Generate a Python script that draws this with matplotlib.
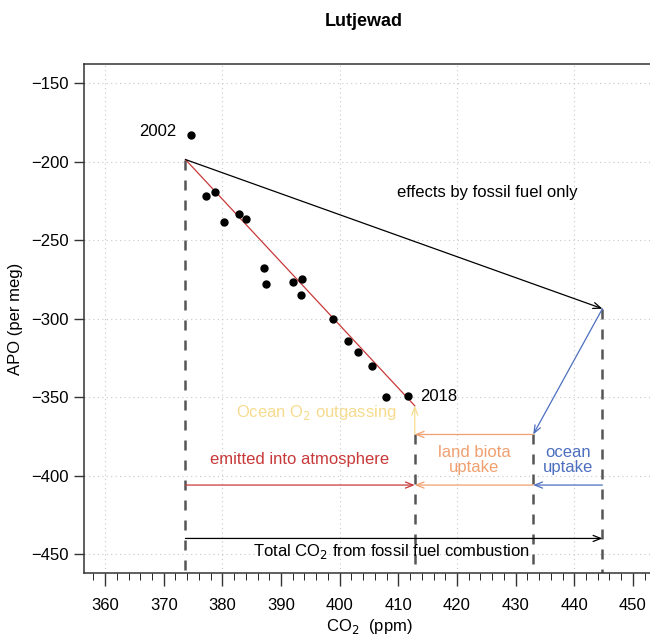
import numpy as np
import matplotlib.pyplot as plt

plt.rcParams['font.family'] = ['Liberation Sans', 'DejaVu Sans']

# yearly means at Lutjewad, 2002-2018
years = list(range(2002, 2019))
co2 = [374.6, 377.25, 378.7, 380.2, 382.9, 384.1, 387.1, 387.5, 392.1,
       393.6, 393.4, 398.8, 401.4, 403.1, 405.5, 407.9, 411.6]
apo = [-182.9, -221.7, -219.4, -238.6, -233.5, -236.3, -267.5, -277.7, -276.4,
       -274.9, -284.8, -300.0, -314.1, -321.5, -330.4, -350.0, -349.4]

# budget corners (CO2 ppm, APO per meg)
co2_start, apo_start = 373.7, -198.7      # fitted start (2002)
co2_end, apo_end = 412.8, -355.5          # fitted end (2018)
co2_land, apo_land = 433.0, -373.8        # after land biota uptake
co2_fossil, apo_fossil = 444.8, -293.7    # fossil fuel only
y_budget, y_total = -406.0, -440.0

red = '#C8393A'
orange = '#F0A070'
blue = '#4D6FBF'
yellow = '#F6DB8E'

fig = plt.figure(figsize=(6.5, 6.4), dpi=100)
ax = fig.add_axes([0.1292, 0.1047, 0.877, 0.795])
ax.set_xlim(356.4, 453.6)
ax.set_ylim(-462, -138)

ax.set_xticks(np.arange(360, 451, 10))
ax.set_xticks(np.arange(358, 454, 2), minor=True)
ax.set_yticks(np.arange(-450, -149, 50))
ax.tick_params(axis='both', labelsize=12, color='#333333', width=1.0)
ax.tick_params(axis='x', which='major', length=9, pad=9)
ax.tick_params(axis='x', which='minor', length=5)
ax.tick_params(axis='y', length=7, pad=4)
ax.set_yticklabels([f'\u2212{abs(v)}' for v in np.arange(-450, -149, 50)])
for s in ['left', 'top', 'bottom']:
    ax.spines[s].set_color('#333333')
    ax.spines[s].set_linewidth(1.1)
ax.spines['right'].set_visible(False)

for gx in range(360, 451, 20):
    ax.axvline(gx, color='#c8c8c8', lw=0.8, ls=(0, (1, 3)), zorder=0)
for gy in range(-450, -149, 50):
    ax.axhline(gy, color='#c8c8c8', lw=0.8, ls=(0, (1, 3)), zorder=0)

# dashed guides down to the axis
dash = dict(color='#555555', lw=1.8, ls=(0, (4, 4)), zorder=1)
ax.plot([co2_start, co2_start], [apo_start, -462], **dash)
ax.plot([co2_end, co2_end], [apo_land, -462], **dash)
ax.plot([co2_land, co2_land], [apo_land, -462], **dash)
ax.plot([co2_fossil, co2_fossil], [apo_fossil, -462], **dash)


def arrow(x0, y0, x1, y1, color):
    ax.annotate('', xy=(x1, y1), xytext=(x0, y0),
                arrowprops=dict(arrowstyle='->,head_length=0.55,head_width=0.22',
                                color=color, lw=0.9, shrinkA=0, shrinkB=0))


# fitted trend and fossil-only line
ax.plot([co2_start, co2_end], [apo_start, apo_end], color=red, lw=0.9, zorder=2)
arrow(co2_start, apo_start, co2_fossil, apo_fossil, 'black')
arrow(co2_fossil, apo_fossil, co2_land, apo_land, blue)
arrow(co2_land, apo_land, co2_end, apo_land, orange)
arrow(co2_end, apo_land, co2_end, apo_end, yellow)

arrow(co2_start, y_budget, co2_end, y_budget, red)
arrow(co2_land, y_budget, co2_end, y_budget, orange)
arrow(co2_fossil, y_budget, co2_land, y_budget, blue)
arrow(co2_start, y_total, co2_fossil, y_total, 'black')

ax.plot(co2, apo, 'o', color='black', ms=5, zorder=3)

fs = 12
ax.annotate(str(years[0]), (co2[0], apo[0]), xytext=(-10, 2), textcoords='offset points',
            ha='right', va='center', fontsize=fs)
ax.annotate(str(years[-1]), (co2[-1], apo[-1]), xytext=(9, 0), textcoords='offset points',
            ha='left', va='center', fontsize=fs)
ax.text(425.1, -219.6, 'effects by fossil fuel only', ha='center', va='center', fontsize=fs)
ax.text(409.8, -359.7, 'Ocean O$_2$ outgassing', ha='right', va='center', fontsize=fs, color=yellow)
ax.text(393.2, -389.7, 'emitted into atmosphere', ha='center', va='center', fontsize=fs, color=red)
ax.text(422.9, -390, 'land biota\nuptake', ha='center', va='center', fontsize=fs,
        color=orange, linespacing=1.05)
ax.text(439.0, -390, 'ocean\nuptake', ha='center', va='center', fontsize=fs,
        color=blue, linespacing=1.05)
ax.text(408.8, -448.3, 'Total CO$_2$ from fossil fuel combustion', ha='center', va='center',
        fontsize=fs)

ax.set_xlabel('CO$_2$  (ppm)', fontsize=fs, labelpad=3)
ax.set_ylabel('APO (per meg)', fontsize=fs, labelpad=6)
fig.text(0.56, 0.966, 'Lutjewad', ha='center', va='center', fontsize=13, fontweight='bold')

fig.savefig('out.png', dpi=100)
